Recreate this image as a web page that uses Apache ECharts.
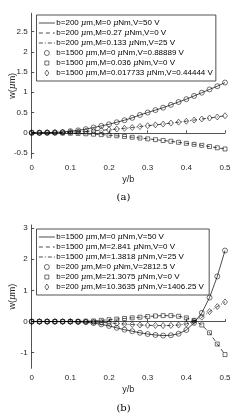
<!DOCTYPE html>
<html><head><meta charset="utf-8">
<script src="https://cdn.jsdelivr.net/npm/echarts@6/dist/echarts.min.js"></script>
<style>html,body{margin:0;padding:0;background:#fff}#c{width:247px;height:419px}</style>
</head><body><div id="c"></div>
<script>
const xVals = [0,0.02,0.04,0.06,0.08,0.1,0.12,0.14,0.16,0.18,0.2,0.22,0.24,0.26,0.28,0.3,0.32,0.34,0.36,0.38,0.4,0.42,0.44,0.46,0.48,0.5];
// panel (a)
const aCircle  = [0,0,0.005,0.01,0.02,0.04,0.06,0.09,0.13,0.17,0.21,0.26,0.31,0.37,0.44,0.50,0.56,0.62,0.69,0.76,0.83,0.91,0.99,1.07,1.15,1.24];
const aSquare  = [0,0,0,0,-0.005,-0.01,-0.015,-0.025,-0.035,-0.045,-0.06,-0.075,-0.09,-0.11,-0.13,-0.15,-0.17,-0.19,-0.21,-0.235,-0.26,-0.285,-0.31,-0.34,-0.37,-0.40];
const aDiamond = [0,0,0.003,0.005,0.008,0.015,0.023,0.033,0.048,0.063,0.075,0.093,0.11,0.13,0.155,0.175,0.195,0.215,0.24,0.263,0.285,0.313,0.34,0.365,0.39,0.42];
// panel (b)
const bCircle  = [0,0,0,0,0,0,-0.01,-0.02,-0.05,-0.09,-0.14,-0.2,-0.26,-0.31,-0.36,-0.4,-0.43,-0.45,-0.44,-0.39,-0.27,-0.04,0.28,0.77,1.45,2.28];
const bSquare  = [0,0,0,0,0,0,0.005,0.01,0.02,0.04,0.06,0.08,0.1,0.12,0.14,0.16,0.18,0.19,0.19,0.17,0.12,0.04,-0.11,-0.36,-0.72,-1.06];
const bDiamond = [0,0,0,0,0,0,-0.003,-0.005,-0.015,-0.025,-0.04,-0.06,-0.08,-0.095,-0.11,-0.12,-0.125,-0.13,-0.125,-0.11,-0.075,0.01,0.14,0.32,0.48,0.63];

const aNames = ['b=200 {i|μ}m,M=0 {i|μ}Nm,V=50 V','b=200 {i|μ}m,M=0.27 {i|μ}Nm,V=0 V','b=200 {i|μ}m,M=0.133 {i|μ}Nm,V=25 V',
  'b=1500 {i|μ}m,M=0 {i|μ}Nm,V=0.88889 V','b=1500 {i|μ}m,M=0.036 {i|μ}Nm,V=0 V','b=1500 {i|μ}m,M=0.017733 {i|μ}Nm,V=0.44444 V'];
const bNames = ['b=1500 {i|μ}m,M=0 {i|μ}Nm,V=50 V ','b=1500 {i|μ}m,M=2.841 {i|μ}Nm,V=0 V ','b=1500 {i|μ}m,M=1.3818 {i|μ}Nm,V=25 V ',
  'b=200 {i|μ}m,M=0 {i|μ}Nm,V=2812.5 V ','b=200 {i|μ}m,M=21.3075 {i|μ}Nm,V=0 V ','b=200 {i|μ}m,M=10.3635 {i|μ}Nm,V=1406.25 V '];
const xTicks = [0,0.1,0.2,0.3,0.4,0.5];
const aYTicks = [-0.5,0,0.5,1,1.5,2,2.5];
const bYTicks = [-1,0,1,2,3];

const pair = (xs, ys) => xs.map((x,i)=>[x, ys[i]]);
const FONT = 'Liberation Sans';
const AX = '#262626';
const chart = echarts.init(document.getElementById('c'), null, {renderer:'canvas'});

function lineSeries(name, data, type, idx){
  return {type:'line', name, xAxisIndex:idx, yAxisIndex:idx, data, symbol:'none', animation:false,
    lineStyle:{color:'#000', width:0.7, type:type}, itemStyle:{color:'#000'}};
}
function markSeries(name, data, sym, size, idx){
  return {type:'scatter', name, xAxisIndex:idx, yAxisIndex:idx, data, symbol:sym, symbolSize:size, animation:false,
    itemStyle:{color:'rgba(0,0,0,0)', borderColor:'#000', borderWidth:0.7}};
}
const dashDot = [4,2,1,2];
const series = [
  lineSeries(aNames[0], pair(xVals,aCircle),'solid',0),
  lineSeries(aNames[1], pair(xVals,aSquare),[4,3],0),
  lineSeries(aNames[2], pair(xVals,aDiamond),dashDot,0),
  markSeries(aNames[3], pair(xVals,aCircle),'circle',5,0),
  markSeries(aNames[4], pair(xVals,aSquare),'rect',4,0),
  markSeries(aNames[5], pair(xVals,aDiamond),'diamond',[5,6],0),
  lineSeries(bNames[0], pair(xVals,bCircle),'solid',1),
  lineSeries(bNames[1], pair(xVals,bSquare),[4,3],1),
  lineSeries(bNames[2], pair(xVals,bDiamond),dashDot,1),
  markSeries(bNames[3], pair(xVals,bCircle),'circle',5,1),
  markSeries(bNames[4], pair(xVals,bSquare),'rect',4,1),
  markSeries(bNames[5], pair(xVals,bDiamond),'diamond',[5,6],1)
];
function xAxis(idx){
  return {type:'value', gridIndex:idx, min:0, max:0.5, interval:0.1,
    name:'y/b', nameLocation:'middle', nameGap:17, nameMoveOverlap:false, nameTextStyle:{fontFamily:FONT, fontSize:9, color:AX},
    axisLine:{lineStyle:{color:AX, width:0.8}}, axisTick:{inside:true, length:2.5, lineStyle:{color:AX, width:0.8}},
    axisLabel:{fontFamily:FONT, fontSize:8, color:AX, margin:5, formatter:v=>String(v)}, splitLine:{show:false}};
}
function yAxis(idx, min, max, ticks){
  return {type:'value', gridIndex:idx, min, max,
    name:'w({i|μ}m)', nameLocation:'middle', nameGap:15, nameRotate:90, nameMoveOverlap:false,
    nameTextStyle:{fontFamily:FONT, fontSize:9, color:AX, rich:{i:{fontFamily:'DejaVu Serif', fontStyle:'italic', fontSize:9, color:AX}}},
    axisLine:{show:true, lineStyle:{color:AX, width:0.8}},
    axisTick:{show:true, inside:true, length:2.5, customValues:ticks, lineStyle:{color:AX, width:0.8}},
    axisLabel:{fontFamily:FONT, fontSize:8, color:AX, margin:4, customValues:ticks, formatter:v=>String(v)},
    splitLine:{show:false}};
}
const hideSym = {color:'rgba(0,0,0,0)', borderWidth:0, borderColor:'rgba(0,0,0,0)'};
const icCircle = 'path://M0,0M6,6M5.5,3A2.5,2.5,0,1,1,0.5,3A2.5,2.5,0,1,1,5.5,3Z';
const icSquare = 'path://M0,0M6,6M1,1L5,1L5,5L1,5Z';
const icDiamond = 'path://M0,0M6,6M3,0L5,3L3,6L1,3Z';
function legend(names, top){
  return {show:true, orient:'vertical', left:36.5, top:top,
    data:[
      {name:names[0], itemStyle:hideSym},
      {name:names[1], itemStyle:hideSym},
      {name:names[2], itemStyle:hideSym},
      {name:names[3], icon:icCircle},
      {name:names[4], icon:icSquare},
      {name:names[5], icon:icDiamond}
    ],
    itemWidth:16, itemHeight:6, itemGap:0, padding:[3,3,3,2], symbolKeepAspect:true,
    itemStyle:{borderWidth:0.7, borderColor:'#000', color:'rgba(0,0,0,0)'},
    lineStyle:{width:0.7, color:'#000'},
    backgroundColor:'#fff', borderColor:'#262626', borderWidth:0.8, borderRadius:0,
    selectedMode:false,
    textStyle:{fontFamily:FONT, fontSize:8, color:'#000', lineHeight:10, padding:[0,0,0,-3.5],
      rich:{i:{fontFamily:'DejaVu Serif', fontStyle:'italic', fontSize:8, color:'#000', lineHeight:10}}}};
}
chart.setOption({
  animation:false,
  grid:[{left:31.7, width:193.3, top:13.3, height:145, outerBoundsMode:'none', containLabel:false},
        {left:31.7, width:193.3, top:225, height:143.3, outerBoundsMode:'none', containLabel:false}],
  xAxis:[xAxis(0), xAxis(1)],
  yAxis:[yAxis(0,-0.63,2.95,aYTicks), yAxis(1,-1.5,3.1,bYTicks)],
  legend:[legend(aNames,15), legend(bNames,229)],
  series,
  graphic:[
    {type:'text', left:'center', top:192, style:{text:'(a)', fontFamily:'DejaVu Serif', fontSize:10, fill:'#000'}},
    {type:'text', left:'center', top:403, style:{text:'(b)', fontFamily:'DejaVu Serif', fontSize:10, fill:'#000'}}
  ]
});
</script></body></html>
